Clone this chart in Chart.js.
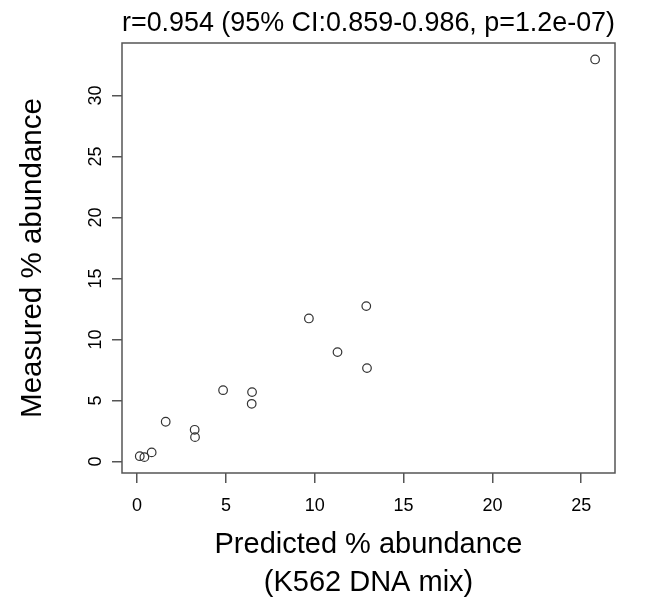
<!DOCTYPE html>
<html>
<head>
<meta charset="utf-8">
<script src="https://cdn.jsdelivr.net/npm/chart.js@4.4.1/dist/chart.umd.min.js"></script>
<style>
  html, body { margin: 0; padding: 0; background: #fff; }
  canvas { display: block; }
</style>
</head>
<body>
<canvas id="myChart" width="656" height="606"></canvas>
<script>
// values
let predicted = [0.15, 0.41, 0.82, 1.61, 3.24, 3.26, 4.84, 6.47, 6.45, 9.67, 11.28, 12.9, 12.94, 25.78];
let measured = [0.43, 0.35, 0.74, 3.25, 2.59, 1.99, 5.84, 5.68, 4.72, 11.72, 8.96, 12.73, 7.65, 32.95];
let xTicks = [0, 5, 10, 15, 20, 25];
let yTicks = [0, 5, 10, 15, 20, 25, 30];
let titulo = 'r=0.954 (95% CI:0.859-0.986, p=1.2e-07)';
let xTitulo = ['Predicted % abundance', '(K562 DNA mix)'];
let yTitulo = 'Measured % abundance';

let fuente = "'Liberation Sans', Arial, sans-serif";
let gris = '#555';

let puntos = predicted.map((x, i) => ({ x: x, y: measured[i] }));

// R style box around the plot region
const cajaPlugin = {
    id: 'caja',
    afterDraw(chart) {
        const a = chart.chartArea;
        const ctx = chart.ctx;
        ctx.save();
        ctx.strokeStyle = gris;
        ctx.lineWidth = 1.5;
        ctx.strokeRect(a.left, a.top, a.right - a.left, a.bottom - a.top);
        ctx.restore();
    }
};

function grafico() {
    var ctx = document.getElementById('myChart').getContext('2d');
    new Chart(ctx, {
        type: 'scatter',
        data: {
            datasets: [{
                data: puntos,
                pointStyle: 'circle',
                pointRadius: 4.3,
                pointBorderWidth: 1.2,
                borderColor: '#333',
                backgroundColor: 'rgba(0,0,0,0)'
            }]
        },
        options: {
            responsive: false,
            animation: false,
            events: [],
            layout: { padding: { left: 0, right: 41, top: 0, bottom: 0 } },
            plugins: {
                legend: { display: false },
                tooltip: { enabled: false },
                title: {
                    display: true,
                    text: titulo,
                    fullSize: false,
                    color: '#000',
                    font: { family: fuente, size: 28.5, weight: 'normal', lineHeight: 1.2 },
                    padding: { top: 6.5, bottom: 2.3 }
                }
            },
            scales: {
                x: {
                    type: 'linear',
                    min: -0.85,
                    max: 26.9,
                    afterBuildTicks: (s) => { s.ticks = xTicks.map(v => ({ value: v })); },
                    afterFit: (s) => { s.height = 133; },
                    grid: { drawOnChartArea: false, drawTicks: true, tickLength: 10, color: gris, lineWidth: 1.5 },
                    border: { display: false },
                    ticks: {
                        color: '#000',
                        padding: 12,
                        maxRotation: 0,
                        font: { family: fuente, size: 18 }
                    },
                    title: {
                        display: true,
                        text: xTitulo,
                        color: '#000',
                        font: { family: fuente, size: 29, lineHeight: 1.31 },
                        padding: { top: 0, bottom: 4 }
                    }
                },
                y: {
                    type: 'linear',
                    min: -0.95,
                    max: 34.3,
                    afterBuildTicks: (s) => { s.ticks = yTicks.map(v => ({ value: v })); },
                    afterFit: (s) => { s.width = 122; },
                    grid: { drawOnChartArea: false, drawTicks: true, tickLength: 10, color: gris, lineWidth: 1.5 },
                    border: { display: false },
                    ticks: {
                        color: '#000',
                        padding: 6,
                        minRotation: 90,
                        maxRotation: 90,
                        crossAlign: 'center',
                        font: { family: fuente, size: 18 }
                    },
                    title: {
                        display: true,
                        text: yTitulo,
                        color: '#000',
                        font: { family: fuente, size: 29.5, lineHeight: 1.2 },
                        padding: { top: 15.1, bottom: 0 }
                    }
                }
            }
        },
        plugins: [cajaPlugin]
    });
}

grafico();
</script>
</body>
</html>
